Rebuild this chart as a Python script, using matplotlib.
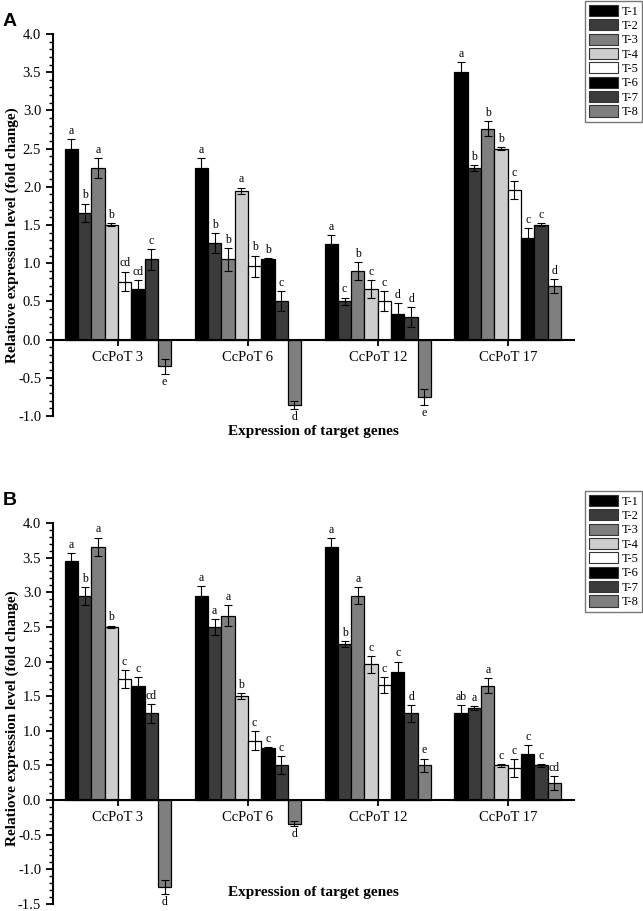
import matplotlib.pyplot as plt
import numpy as np
from matplotlib.patches import Patch
from matplotlib.ticker import MultipleLocator

plt.rcParams['font.family'] = ['Liberation Serif', 'DejaVu Serif']
plt.rcParams['axes.unicode_minus'] = False

genes = ['CcPoT 3', 'CcPoT 6', 'CcPoT 12', 'CcPoT 17']
treatments = ['T-1', 'T-2', 'T-3', 'T-4', 'T-5', 'T-6', 'T-7', 'T-8']
colors = ['#000000', '#3b3b3b', '#7f7f7f', '#cdcdcd', '#ffffff', '#000000', '#3b3b3b', '#7f7f7f']

# panel A, one row per gene, one value per treatment
a_vals = [[2.50, 1.66, 2.25, 1.50, 0.76, 0.66, 1.05, -0.35],
          [2.25, 1.26, 1.05, 1.95, 0.96, 1.05, 0.50, -0.86],
          [1.25, 0.50, 0.90, 0.66, 0.50, 0.33, 0.30, -0.75],
          [3.50, 2.25, 2.76, 2.50, 1.96, 1.33, 1.50, 0.70]]
a_err = [[0.12, 0.12, 0.13, 0.02, 0.13, 0.12, 0.14, 0.10],
         [0.13, 0.13, 0.15, 0.04, 0.14, 0.02, 0.13, 0.05],
         [0.12, 0.05, 0.12, 0.12, 0.13, 0.15, 0.13, 0.10],
         [0.13, 0.04, 0.10, 0.02, 0.12, 0.13, 0.02, 0.09]]
a_sig = [['a', 'b', 'a', 'b', 'cd', 'cd', 'c', 'e'],
         ['a', 'b', 'b', 'a', 'b', 'b', 'c', 'd'],
         ['a', 'c', 'b', 'c', 'c', 'd', 'd', 'e'],
         ['a', 'b', 'b', 'b', 'c', 'c', 'c', 'd']]

# panel B
b_vals = [[3.45, 2.95, 3.66, 2.50, 1.75, 1.65, 1.25, -1.26],
          [2.95, 2.50, 2.66, 1.50, 0.86, 0.75, 0.50, -0.34],
          [3.66, 2.25, 2.95, 1.96, 1.66, 1.85, 1.25, 0.50],
          [1.25, 1.33, 1.65, 0.50, 0.46, 0.66, 0.50, 0.25]]
b_err = [[0.12, 0.13, 0.13, 0.02, 0.13, 0.12, 0.14, 0.10],
         [0.14, 0.12, 0.15, 0.04, 0.14, 0.02, 0.13, 0.04],
         [0.12, 0.04, 0.12, 0.12, 0.12, 0.15, 0.12, 0.10],
         [0.12, 0.03, 0.11, 0.02, 0.13, 0.13, 0.02, 0.10]]
b_sig = [['a', 'b', 'a', 'b', 'c', 'c', 'cd', 'd'],
         ['a', 'a', 'a', 'b', 'c', 'c', 'c', 'd'],
         ['a', 'b', 'a', 'c', 'c', 'c', 'd', 'e'],
         ['ab', 'a', 'a', 'c', 'c', 'c', 'c', 'cd']]


def draw(ax, vals, errs, sigs, ymin):
    step = 0.1025
    x = np.arange(len(genes))
    for i in range(len(treatments)):
        pos = x + (i - 3.5) * step
        v = [vals[g][i] for g in range(len(genes))]
        e = [errs[g][i] for g in range(len(genes))]
        ax.bar(pos, v, step, color=colors[i], edgecolor='black', linewidth=0.9,
               yerr=e, capsize=3,
               error_kw=dict(elinewidth=0.8, capthick=0.8, ecolor='black'))
        for g in range(len(genes)):
            if v[g] >= 0:
                ax.annotate(sigs[g][i], (pos[g], v[g] + e[g]), xytext=(0, 1.5),
                            textcoords='offset points', ha='center', va='bottom', fontsize=8.5)
            else:
                ax.annotate(sigs[g][i], (pos[g], v[g] - e[g]), xytext=(0, -1.5),
                            textcoords='offset points', ha='center', va='top', fontsize=8.5)

    ax.set_xlim(-0.5, 3.51)
    ax.set_ylim(ymin, 4.0)
    ax.set_xticks(x)
    ax.set_xticklabels(genes)
    ax.yaxis.set_major_locator(MultipleLocator(0.5))
    ax.yaxis.set_minor_locator(MultipleLocator(0.1))
    ax.yaxis.set_major_formatter(plt.FormatStrFormatter('%.1f'))
    ax.spines['top'].set_visible(False)
    ax.spines['right'].set_visible(False)
    ax.spines['bottom'].set_position(('data', 0))
    ax.spines['bottom'].set_linewidth(1.5)
    ax.spines['left'].set_linewidth(1.5)
    ax.tick_params(axis='y', which='major', direction='out', length=5, width=1.3, labelsize=10.5)
    ax.tick_params(axis='y', which='minor', direction='out', length=3, width=1.0)
    ax.tick_params(axis='x', direction='out', length=4, width=1.3, labelsize=10.5, pad=4)
    ax.set_ylabel('Relatiove expression level (fold change)', fontsize=11, fontweight='bold')
    ax.set_xlabel('Expression of target genes', fontsize=11, fontweight='bold')


fig = plt.figure(figsize=(6.43, 9.11), dpi=100)
ax1 = fig.add_axes([0.0824, 0.5434, 0.8103, 0.4193])
ax2 = fig.add_axes([0.0824, 0.0077, 0.8103, 0.4182])

draw(ax1, a_vals, a_err, a_sig, -1.0)
draw(ax2, b_vals, b_err, b_sig, -1.5)

ax1.xaxis.set_label_coords(0.5, -0.024)
ax2.xaxis.set_label_coords(0.5, 0.047)
ax1.yaxis.set_label_coords(-0.065, 0.474)
ax2.yaxis.set_label_coords(-0.065, 0.488)

handles = [Patch(facecolor=c, edgecolor='#333333', linewidth=0.8) for c in colors]
for top in [1 - 1 / 911, 1 - 491 / 911]:
    leg = fig.legend(handles, treatments, loc='upper right', bbox_to_anchor=(642 / 643, top),
                     fontsize=9, frameon=True, fancybox=False, edgecolor='#555555',
                     handlelength=2.3, handleheight=1.0, labelspacing=0.12,
                     handletextpad=0.3, borderpad=0.3, borderaxespad=0)

fig.text(0.004, 1 - 22 / 911, 'A', fontsize=14, fontweight='bold', family='Liberation Sans', va='center')
fig.text(0.004, 1 - 500 / 911, 'B', fontsize=14, fontweight='bold', family='Liberation Sans', va='center')

fig.savefig('out.png', dpi=100)
